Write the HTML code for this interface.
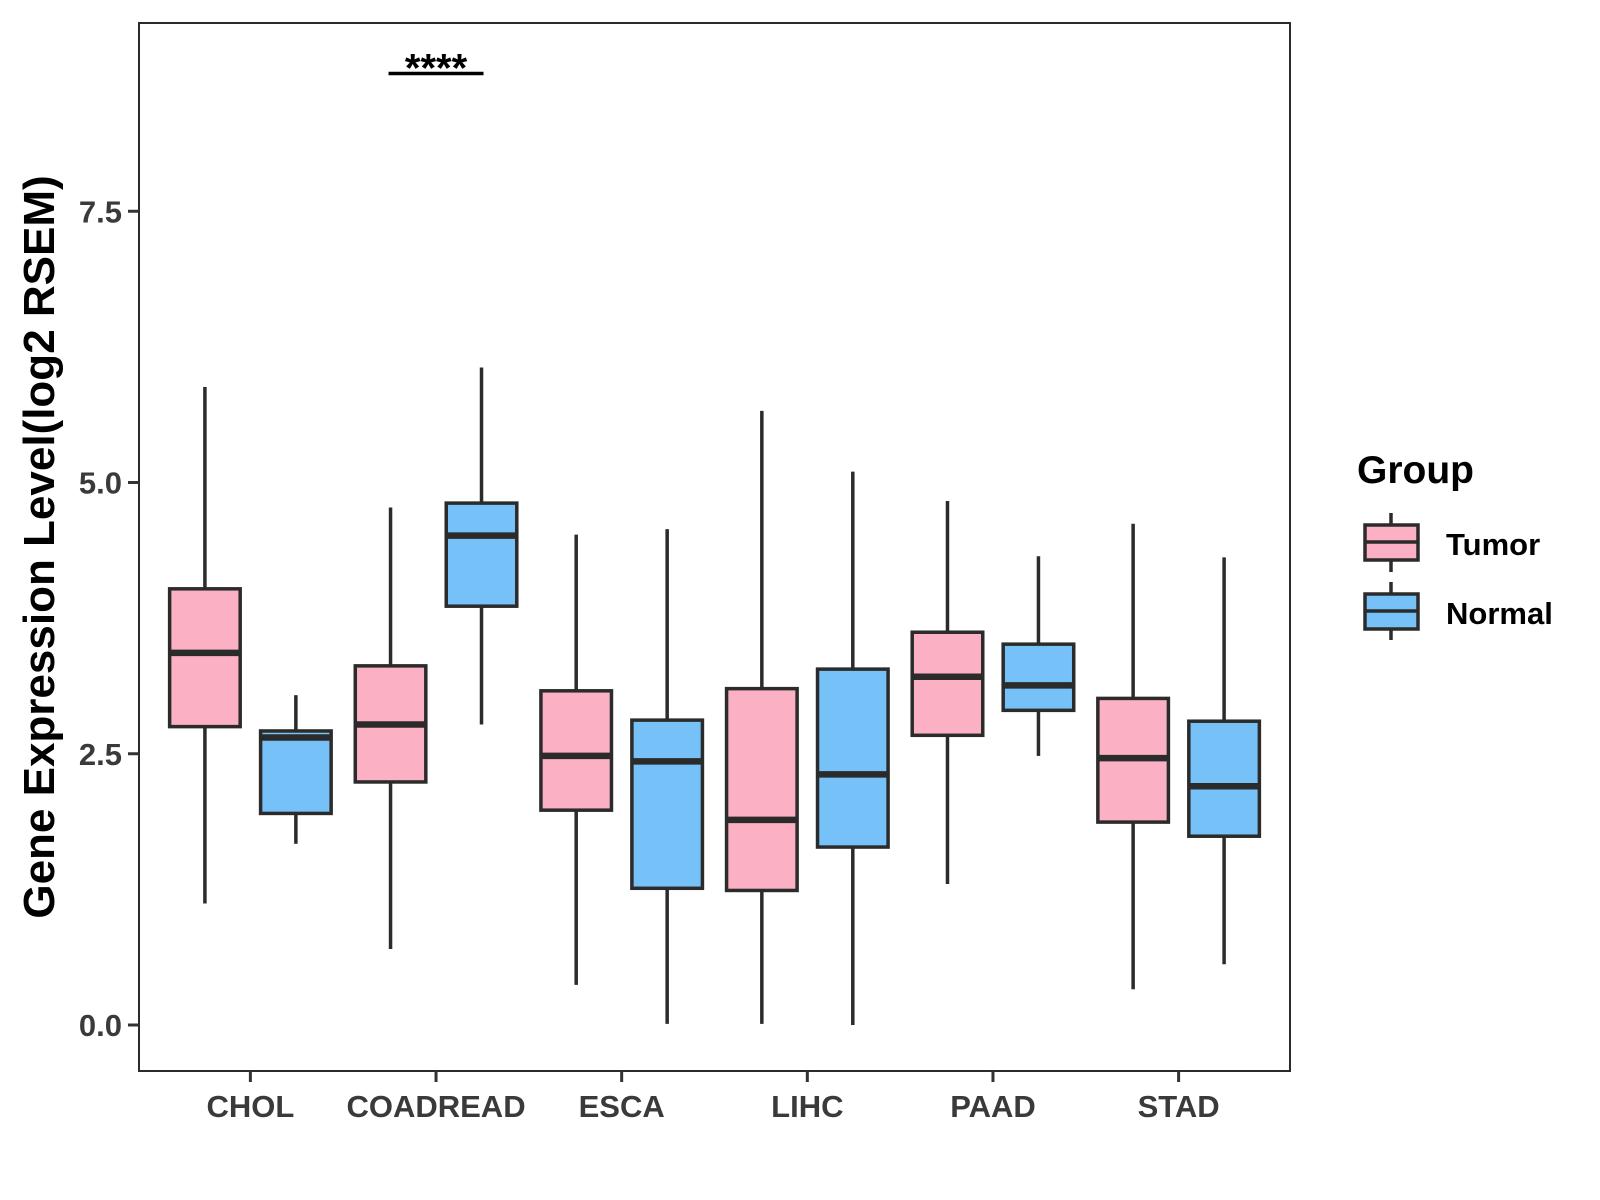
<!DOCTYPE html>
<html><head><meta charset="utf-8"><style>
html,body{margin:0;padding:0;background:#fff;}
svg{display:block;font-family:"Liberation Sans",Arial,sans-serif;font-weight:bold;}
</style></head><body>
<svg id="chart" width="1600" height="1200" viewBox="0 0 1600 1200" xmlns="http://www.w3.org/2000/svg">
<rect x="0" y="0" width="1600" height="1200" fill="#fff"/>
<g id="marks"></g>
<rect x="139" y="23" width="1151" height="1048" fill="none" stroke="#2b2b2b" stroke-width="2"/>
<g id="axes"></g>
<text transform="translate(54,547) rotate(-90)" text-anchor="middle" font-size="44" fill="#000">Gene Expression Level(log2 RSEM)</text>
<g>
<text x="1357" y="483" font-size="39" fill="#000">Group</text>
<g>
<line x1="1391" y1="513" x2="1391" y2="572" stroke="#2b2b2b" stroke-width="3.5"/>
<rect x="1365" y="525" width="53" height="35" fill="#FBB1C3" stroke="#2b2b2b" stroke-width="3.5"/>
<line x1="1365" y1="542" x2="1418" y2="542" stroke="#2b2b2b" stroke-width="3.5"/>
<text x="1446" y="555" font-size="31" fill="#000">Tumor</text>
</g>
<g>
<line x1="1391" y1="582" x2="1391" y2="640" stroke="#2b2b2b" stroke-width="3.5"/>
<rect x="1365" y="594" width="53" height="35" fill="#76C1F8" stroke="#2b2b2b" stroke-width="3.5"/>
<line x1="1365" y1="611" x2="1418" y2="611" stroke="#2b2b2b" stroke-width="3.5"/>
<text x="1446" y="624" font-size="31" fill="#000">Normal</text>
</g>
</g>
</svg>
<script>
const categories = ["CHOL","COADREAD","ESCA","LIHC","PAAD","STAD"];
const tumorLow = [1.12,0.70,0.37,0.01,1.30,0.33];
const tumorQ1 = [2.75,2.24,1.98,1.24,2.67,1.87];
const tumorMed = [3.43,2.77,2.48,1.89,3.21,2.46];
const tumorQ3 = [4.02,3.31,3.08,3.10,3.62,3.01];
const tumorHigh = [5.88,4.77,4.52,5.66,4.83,4.62];
const normalLow = [1.67,2.77,0.01,0.00,2.48,0.56];
const normalQ1 = [1.95,3.86,1.26,1.64,2.90,1.74];
const normalMed = [2.65,4.51,2.43,2.31,3.13,2.20];
const normalQ3 = [2.71,4.81,2.81,3.28,3.51,2.80];
const normalHigh = [3.04,6.06,4.57,5.10,4.32,4.31];
const yTicks = [0,2.5,5,7.5];
const yTickLabels = ["0.0","2.5","5.0","7.5"];
const sigLabel = "****";
const sigCategory = 1;
const sigY = 8.77;

const NS="http://www.w3.org/2000/svg";
const pL=139,pR=1290,pT=23,pB=1071;
const unit=(pR-pL)/(categories.length-1+1.2);
function xs(i){return pL+(0.6+i)*unit;}
const y0=1025,yPer=108.5;
function ys(v){return y0-v*yPer;}
function mk(tag,attrs,parent){const e=document.createElementNS(NS,tag);for(const k in attrs)e.setAttribute(k,attrs[k]);parent.appendChild(e);return e;}
const marks=document.getElementById('marks'),axes=document.getElementById('axes');
const bw=0.38*unit,off=0.245*unit;
function box(i,lo,q1,md,q3,hi,dx,fill,name){
  const g=mk('g',{},marks);
  
  
  const cx=xs(i)+dx;
  mk('line',{x1:cx,x2:cx,y1:ys(hi),y2:ys(q3),stroke:'#2b2b2b','stroke-width':3.5},g);
  mk('line',{x1:cx,x2:cx,y1:ys(q1),y2:ys(lo),stroke:'#2b2b2b','stroke-width':3.5},g);
  mk('rect',{x:cx-bw/2,y:ys(q3),width:bw,height:ys(q1)-ys(q3),fill:fill,stroke:'#2b2b2b','stroke-width':3.5},g);
  mk('line',{x1:cx-bw/2,x2:cx+bw/2,y1:ys(md),y2:ys(md),stroke:'#2b2b2b','stroke-width':6.5},g);
}
categories.forEach((c,i)=>{
  box(i,tumorLow[i],tumorQ1[i],tumorMed[i],tumorQ3[i],tumorHigh[i],-off,'#FBB1C3','box-tumor-'+c.toLowerCase());
  box(i,normalLow[i],normalQ1[i],normalMed[i],normalQ3[i],normalHigh[i],off,'#76C1F8','box-normal-'+c.toLowerCase());
  const t=mk('line',{x1:xs(i),x2:xs(i),y1:pB,y2:pB+11,stroke:'#333','stroke-width':3},axes);
  
  
  const l=mk('text',{x:xs(i),y:pB+46,'text-anchor':'middle','font-size':31,fill:'#3a3a3a'},axes);
  
  
  l.textContent=c;
});
yTicks.forEach((v,i)=>{
  const t=mk('line',{x1:pL-11,x2:pL,y1:ys(v),y2:ys(v),stroke:'#333','stroke-width':3},axes);
  
  
  const l=mk('text',{x:pL-17,y:ys(v)+11,'text-anchor':'end','font-size':31,fill:'#3a3a3a'},axes);
  
  
  l.textContent=yTickLabels[i];
});
const sx1=xs(sigCategory)-off,sx2=xs(sigCategory)+off;
const sl=mk('line',{x1:sx1-2,x2:sx2+2,y1:ys(sigY),y2:ys(sigY),stroke:'#000','stroke-width':3.5},axes);


const st=mk('text',{x:(sx1+sx2)/2,y:ys(sigY)+8,'text-anchor':'middle','font-size':40,fill:'#000'},axes);


st.textContent=sigLabel;
</script>
</body></html>
